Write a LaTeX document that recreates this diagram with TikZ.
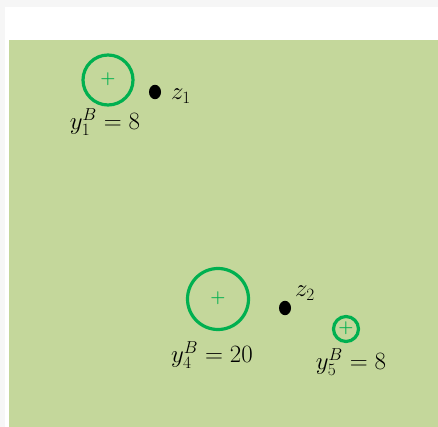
\documentclass[tikz,border=0pt]{standalone}
\usepackage{amsmath}
\usepackage{bm}
\definecolor{bggray}{HTML}{F6F6F6}
\definecolor{fieldgreen}{HTML}{C4D79B}
\definecolor{ringgreen}{HTML}{00B050}
\begin{document}
\begin{tikzpicture}[x=1pt,y=-1pt,
  ring/.style={draw=ringgreen,line width=3.2pt,circle,inner sep=0pt},
  centremark/.style={text=ringgreen,font=\fontsize{16}{16}\selectfont,inner sep=0pt},
  demand/.style={circle,fill=black,inner sep=0pt,minimum width=12pt,xscale=1,yscale=1.2},
  lbl/.style={inner sep=0pt,font=\fontsize{27}{30}\selectfont}]
\useasboundingbox (0,0) rectangle (438,427);
\fill[bggray] (0,0) rectangle (438,427);
\fill[white] (5,7) rectangle (438,427);
\fill[fieldgreen] (9,40) rectangle (438,427);
% circles
\node[ring,minimum size=50pt] (c1) at (108,80) {};
\node[centremark] (p1) at (108,79) {$\bm{+}$};
\node[ring,minimum size=61pt] (c4) at (218,299) {};
\node[centremark] (p4) at (218,298) {$\bm{+}$};
\node[ring,minimum size=25pt] (c5) at (346,329) {};
\node[centremark] (p5) at (346,328) {$\bm{+}$};
% demand points
\node[demand] (d1) at (155,92) {};
\node[demand] (d2) at (285,308) {};
% labels
\node[lbl] (z1) at (181,96) {$z_1$};
\node[lbl] (z2) at (305,293) {$z_2$};
\node[lbl] (l1) at (105,122) {$y_1^B = 8$};
\node[lbl] (l4) at (212,355) {$y_4^B = 20$};
\node[lbl] (l5) at (351,362) {$y_5^B = 8$};
\end{tikzpicture}
\end{document}
